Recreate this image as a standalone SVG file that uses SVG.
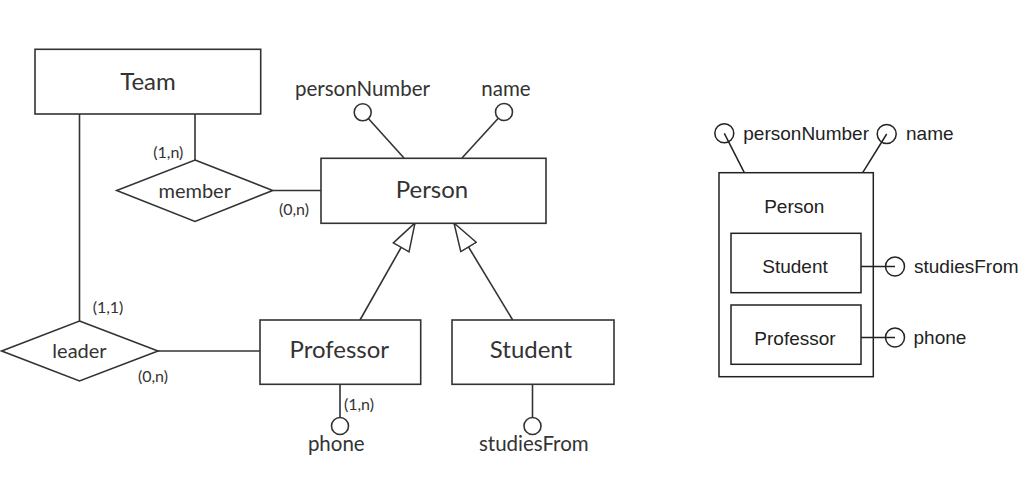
<svg xmlns="http://www.w3.org/2000/svg" width="1032" height="490" viewBox="0 0 1032 490">
<style>
.shape{fill:#fff;stroke:#333;stroke-width:1.6}
.ln{fill:none;stroke:#333;stroke-width:1.6}
.att{fill:#fff;stroke:#333;stroke-width:1.6}
.ent{font-family:Lato,"Liberation Sans",sans-serif;font-size:24px;fill:#333;text-anchor:middle}
.rel{font-family:Lato,"Liberation Sans",sans-serif;font-size:20px;fill:#333;text-anchor:middle}
.an{font-family:Lato,"Liberation Sans",sans-serif;font-size:20.5px;fill:#333;text-anchor:middle}
.card{font-family:Lato,"Liberation Sans",sans-serif;font-size:16px;fill:#333;text-anchor:middle}
.r-shape{fill:none;stroke:#222;stroke-width:1.5}
.r-att{fill:none;stroke:#222;stroke-width:1.5}
.r-txt{font-family:"Liberation Sans",Arial,sans-serif;font-size:19px;fill:#222}
.mid{text-anchor:middle}
</style>
<defs>
<marker id="gen" markerUnits="userSpaceOnUse" viewBox="0 0 30 20" markerWidth="30" markerHeight="20" refX="29" refY="10" orient="auto">
<path d="M1,1 L29,10 L1,19 Z" fill="#fff" stroke="#333" stroke-width="1.5"/>
</marker>
</defs>

<g id="connectors">
<line class="ln" x1="195" y1="114" x2="195" y2="160"/>
<line class="ln" x1="79.5" y1="114" x2="79.5" y2="321"/>
<line class="ln" x1="272.7" y1="190.5" x2="321" y2="190.5"/>
<line class="ln" x1="158" y1="351" x2="260" y2="351"/>
<line class="ln" x1="362.7" y1="112.3" x2="404" y2="158"/>
<line class="ln" x1="504" y1="112" x2="462" y2="158"/>
<line class="ln" x1="340" y1="384" x2="340" y2="426"/>
<line class="ln" x1="532.5" y1="384" x2="532.5" y2="426"/>
<line class="ln" x1="360" y1="320" x2="415" y2="223" marker-end="url(#gen)"/>
<line class="ln" x1="512.7" y1="320" x2="454" y2="223" marker-end="url(#gen)"/>
<line class="r-att" x1="724.3" y1="133.3" x2="744.3" y2="172.7"/>
<line class="r-att" x1="886.7" y1="134" x2="862.7" y2="172.7"/>
<line class="r-att" x1="861" y1="266.5" x2="895" y2="266.5"/>
<line class="r-att" x1="861" y1="337.5" x2="895" y2="337.5"/>
</g>

<g id="team">
<rect class="shape" x="35" y="49.3" width="225.7" height="64.7"/>
<text class="ent" x="148" y="90">Team</text>
</g>

<g id="member">
<polygon class="shape" points="195,160 272.7,190.5 195,221.5 116.7,190.5"/>
<text class="rel" x="194.7" y="198">member</text>
<text class="card" x="168.3" y="158">(1,n)</text>
<text class="card" x="294" y="215">(0,n)</text>
</g>

<g id="person">
<rect class="shape" x="321" y="158.3" width="225" height="65"/>
<text class="ent" x="432" y="198.3">Person</text>
</g>

<g id="attr-personNumber">
<circle class="att" cx="362.7" cy="112.3" r="8.5"/>
<text class="an" x="362.5" y="96">personNumber</text>
</g>

<g id="attr-name">
<circle class="att" cx="504" cy="112" r="8.5"/>
<text class="an" x="506" y="96">name</text>
</g>

<g id="leader">
<polygon class="shape" points="79.5,321 158,351 79.5,381 1.7,351"/>
<text class="rel" x="79.5" y="358">leader</text>
<text class="card" x="108" y="313">(1,1)</text>
<text class="card" x="153" y="382">(0,n)</text>
</g>

<g id="professor">
<rect class="shape" x="260" y="320" width="160.7" height="64.3"/>
<text class="ent" x="339.3" y="358.3">Professor</text>
</g>

<g id="student">
<rect class="shape" x="452" y="320" width="162" height="64.3"/>
<text class="ent" x="531" y="358.3">Student</text>
</g>

<g id="attr-phone">
<circle class="att" cx="340" cy="426" r="8.5"/>
<text class="card" x="359" y="410">(1,n)</text>
<text class="an" x="336.3" y="451">phone</text>
</g>

<g id="attr-studiesFrom">
<circle class="att" cx="532.5" cy="426" r="8.5"/>
<text class="an" x="533.8" y="451">studiesFrom</text>
</g>

<g id="r-person">
<rect class="r-shape" x="719" y="172.7" width="154.3" height="204"/>
<text class="r-txt mid" x="794.3" y="212.5">Person</text>
</g>

<g id="r-student">
<rect class="r-shape" x="731" y="233.3" width="130" height="59.4"/>
<text class="r-txt mid" x="795" y="272.5">Student</text>
</g>

<g id="r-professor">
<rect class="r-shape" x="731" y="305" width="130" height="59.3"/>
<text class="r-txt mid" x="795" y="344.5">Professor</text>
</g>

<g id="r-attr-personNumber">
<circle class="r-att" cx="724.3" cy="133.3" r="9.5"/>
<text class="r-txt" x="743.3" y="140">personNumber</text>
</g>

<g id="r-attr-name">
<circle class="r-att" cx="886.7" cy="134" r="9.5"/>
<text class="r-txt" x="906" y="140">name</text>
</g>

<g id="r-attr-studiesFrom">
<circle class="r-att" cx="895" cy="266.5" r="9.5"/>
<text class="r-txt" x="914" y="272.5">studiesFrom</text>
</g>

<g id="r-attr-phone">
<circle class="r-att" cx="895" cy="337.5" r="9.5"/>
<text class="r-txt" x="913.5" y="344">phone</text>
</g>
</svg>
